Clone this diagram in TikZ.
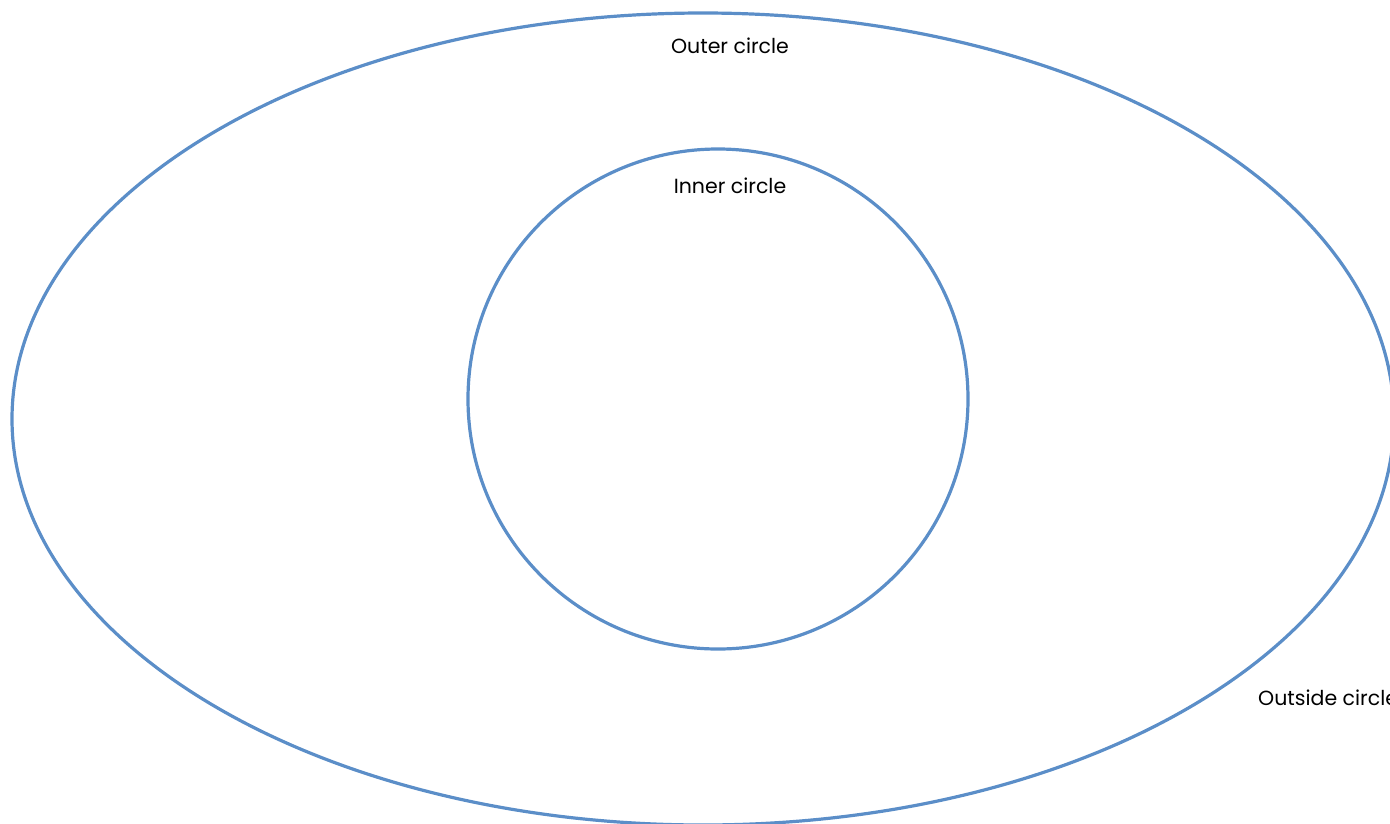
\documentclass[tikz,border=0pt]{standalone}
\usepackage{fontspec}
\setmainfont{Poppins}
\definecolor{ringblue}{RGB}{91,142,200}

\begin{document}
\begin{tikzpicture}[x=1pt,y=-1pt,
  ring/.style={draw=ringblue,line width=3.2pt},
  lbl/.style={font=\fontsize{20.5}{24}\selectfont,inner sep=0pt}]
\useasboundingbox (0,0) rectangle (1390,823);
\clip (0,0) rectangle (1390,823);
\coordinate (O) at (703,419); \coordinate (I) at (718,399);
\draw[ring] (O) ellipse [x radius=691, y radius=406];
\draw[ring] (I) circle [radius=250];
\node[lbl] (outer) at (730,46) {Outer circle};
\node[lbl] (inner) at (730,186) {Inner circle};
\node[lbl,anchor=west] (outside) at (1258,698) {Outside circle};
\end{tikzpicture}
\end{document}
